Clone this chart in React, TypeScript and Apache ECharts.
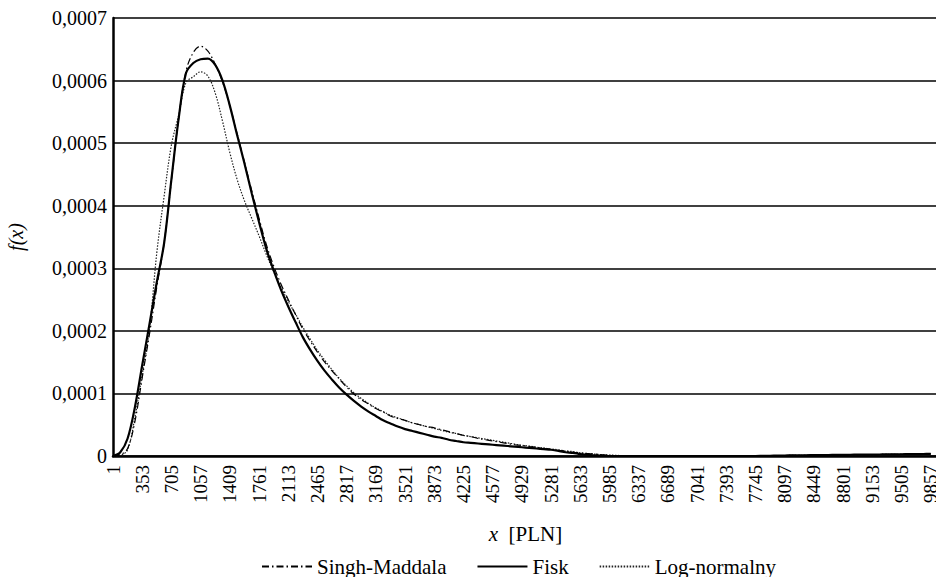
import React, { useEffect, useRef } from "react";
import * as echarts from "echarts";

const FONT = "Liberation Serif";

// x grid: incomes from 1 PLN in steps of 88 PLN (one extra empty slot after 9857)
const X_STEP = 88;
const X_COUNT = 114;
const xCategories: string[] = Array.from({ length: X_COUNT }, (_, i) => String(1 + i * X_STEP));
const LAST_LABEL_INDEX = 112;

// density values in units of 1e-4
const singhMaddala: (number | null)[] = [
  0, 0.02, 0.12, 0.55, 1.25, 1.95, 2.7, 3.4,
  4.4, 5.4, 6.15, 6.45, 6.55, 6.47, 6.26, 5.98,
  5.6, 5.15, 4.7, 4.24, 3.8, 3.38, 3.04, 2.75,
  2.5, 2.26, 2.03, 1.84, 1.66, 1.5, 1.36, 1.23,
  1.1, 0.99, 0.9, 0.83, 0.76, 0.7, 0.64, 0.6,
  0.57, 0.53, 0.5, 0.47, 0.45, 0.42, 0.39, 0.36,
  0.33, 0.31, 0.28, 0.26, 0.24, 0.22, 0.2, 0.18,
  0.17, 0.15, 0.14, 0.12, 0.11, 0.09, 0.08, 0.06,
  0.05, 0.04, 0.03, 0.02, 0.01, 0.005, 0, 0,
  0, 0, 0, 0, 0, 0, 0, 0,
  0, 0, 0, 0, 0, 0, 0, 0,
  0, 0.002, 0.004, 0.006, 0.008, 0.01, 0.011, 0.012,
  0.013, 0.015, 0.016, 0.017, 0.018, 0.02, 0.021, 0.022,
  0.023, 0.024, 0.026, 0.027, 0.028, 0.029, 0.03, 0.032,
  0.033, null,
];

const fisk: (number | null)[] = [
  0, 0.06, 0.28, 0.78, 1.45, 2.11, 2.78, 3.4,
  4.42, 5.4, 6.12, 6.28, 6.34, 6.35, 6.25, 6.0,
  5.6, 5.13, 4.68, 4.2, 3.74, 3.31, 2.97, 2.66,
  2.39, 2.14, 1.9, 1.7, 1.52, 1.36, 1.22, 1.09,
  0.98, 0.88, 0.79, 0.71, 0.64, 0.57, 0.52, 0.47,
  0.43, 0.4, 0.37, 0.34, 0.31, 0.29, 0.26, 0.24,
  0.22, 0.21, 0.2, 0.19, 0.18, 0.17, 0.16, 0.15,
  0.14, 0.13, 0.12, 0.11, 0.1, 0.08, 0.06, 0.05,
  0.03, 0.02, 0.01, 0.005, 0, 0, 0, 0,
  0, 0, 0, 0, 0, 0, 0, 0,
  0, 0, 0, 0, 0, 0, 0, 0,
  0, 0.002, 0.004, 0.006, 0.008, 0.01, 0.011, 0.012,
  0.013, 0.015, 0.016, 0.017, 0.018, 0.02, 0.021, 0.022,
  0.023, 0.024, 0.026, 0.027, 0.028, 0.029, 0.03, 0.032,
  0.033, null,
];

const logNormal: (number | null)[] = [
  0, 0.01, 0.1, 0.62, 1.3, 2.03, 3.25, 4.15,
  4.97, 5.45, 5.97, 6.06, 6.14, 6.07, 5.8, 5.35,
  4.85, 4.42, 4.08, 3.8, 3.52, 3.22, 2.95, 2.7,
  2.47, 2.27, 2.06, 1.87, 1.69, 1.53, 1.38, 1.24,
  1.12, 1.01, 0.92, 0.84, 0.77, 0.71, 0.65, 0.61,
  0.57, 0.53, 0.5, 0.47, 0.44, 0.41, 0.38, 0.36,
  0.33, 0.31, 0.29, 0.27, 0.25, 0.23, 0.21, 0.19,
  0.17, 0.16, 0.14, 0.13, 0.11, 0.1, 0.08, 0.07,
  0.05, 0.04, 0.03, 0.02, 0.015, 0.01, 0.005, 0,
  0, 0, 0, 0, 0, 0, 0, 0,
  0, 0, 0, 0, 0, 0, 0, 0,
  0, 0.002, 0.004, 0.006, 0.008, 0.01, 0.011, 0.012,
  0.013, 0.015, 0.016, 0.017, 0.018, 0.02, 0.021, 0.022,
  0.023, 0.024, 0.026, 0.027, 0.028, 0.029, 0.03, 0.032,
  0.033, null,
];

const yTicks = [0, 1, 2, 3, 4, 5, 6, 7];
const seriesNames = ["Singh-Maddala", "Fisk", "Log-normalny"];

export default function App() {
  const ref = useRef<HTMLDivElement>(null);

  useEffect(() => {
    if (!ref.current) return;
    const chart = echarts.init(ref.current, null, { renderer: "svg" });
    chart.setOption({
      animation: false,
      backgroundColor: "#ffffff",
      textStyle: { fontFamily: FONT, color: "#000" },
      grid: {
        left: 113,
        top: 18,
        width: 825,
        bottom: 121,
        containLabel: false,
        outerBoundsMode: "none",
      },
      legend: {
        data: seriesNames,
        top: 551,
        left: 256,
        itemWidth: 50,
        itemHeight: 14,
        itemGap: 30,
        itemStyle: { color: "rgba(0,0,0,0)", borderWidth: 0, opacity: 0 },
        textStyle: { fontFamily: FONT, fontSize: 21, color: "#000" },
      },
      xAxis: {
        type: "category",
        data: xCategories,
        boundaryGap: false,
        axisLine: { lineStyle: { color: "#000", width: 2.5 } },
        axisTick: { show: false },
        splitLine: { show: false },
        axisLabel: {
          rotate: 90,
          interval: (i: number) => i % 4 === 0 && i <= LAST_LABEL_INDEX,
          fontFamily: FONT,
          fontSize: 19,
          color: "#000",
          margin: 9,
        },
        name: "{i|x}  [PLN]",
        nameLocation: "middle",
        nameGap: 67,
        nameTextStyle: {
          fontFamily: FONT,
          fontSize: 21,
          color: "#000",
          rich: {
            i: { fontFamily: FONT, fontSize: 21, fontStyle: "italic", color: "#000" },
          },
        },
      },
      yAxis: {
        type: "value",
        min: yTicks[0],
        max: yTicks[yTicks.length - 1],
        interval: 1,
        axisLine: { show: true, lineStyle: { color: "#000", width: 2.5 } },
        axisTick: { show: false },
        splitLine: { lineStyle: { color: "#000", width: 1.5 } },
        axisLabel: {
          fontFamily: FONT,
          fontSize: 20,
          color: "#000",
          margin: 6,
          formatter: (v: number) => (v === 0 ? "0" : (v / 10000).toFixed(4).replace(".", ",")),
        },
        name: "f(x)",
        nameLocation: "middle",
        nameGap: 87,
        nameTextStyle: { fontFamily: FONT, fontSize: 20, fontStyle: "italic", color: "#000" },
      },
      series: [
        {
          name: seriesNames[0],
          type: "line",
          data: singhMaddala,
          symbol: "none",
          smooth: 0.35,
          lineStyle: { color: "#000", width: 1.2, type: [7, 3, 1.5, 3] },
          itemStyle: { color: "#000" },
          z: 3,
        },
        {
          name: seriesNames[1],
          type: "line",
          data: fisk,
          symbol: "none",
          smooth: 0.35,
          lineStyle: { color: "#000", width: 2.2, type: "solid" },
          itemStyle: { color: "#000" },
          z: 4,
        },
        {
          name: seriesNames[2],
          type: "line",
          data: logNormal,
          symbol: "none",
          smooth: 0.35,
          lineStyle: { color: "#222", width: 1.2, type: [1.5, 1.5] },
          itemStyle: { color: "#222" },
          z: 2,
        },
      ],
    });
    return () => chart.dispose();
  }, []);

  return (
    <div
      ref={ref}
      style={{ position: "fixed", left: 0, top: 0, width: 936, height: 577, background: "#fff" }}
    />
  );
}
